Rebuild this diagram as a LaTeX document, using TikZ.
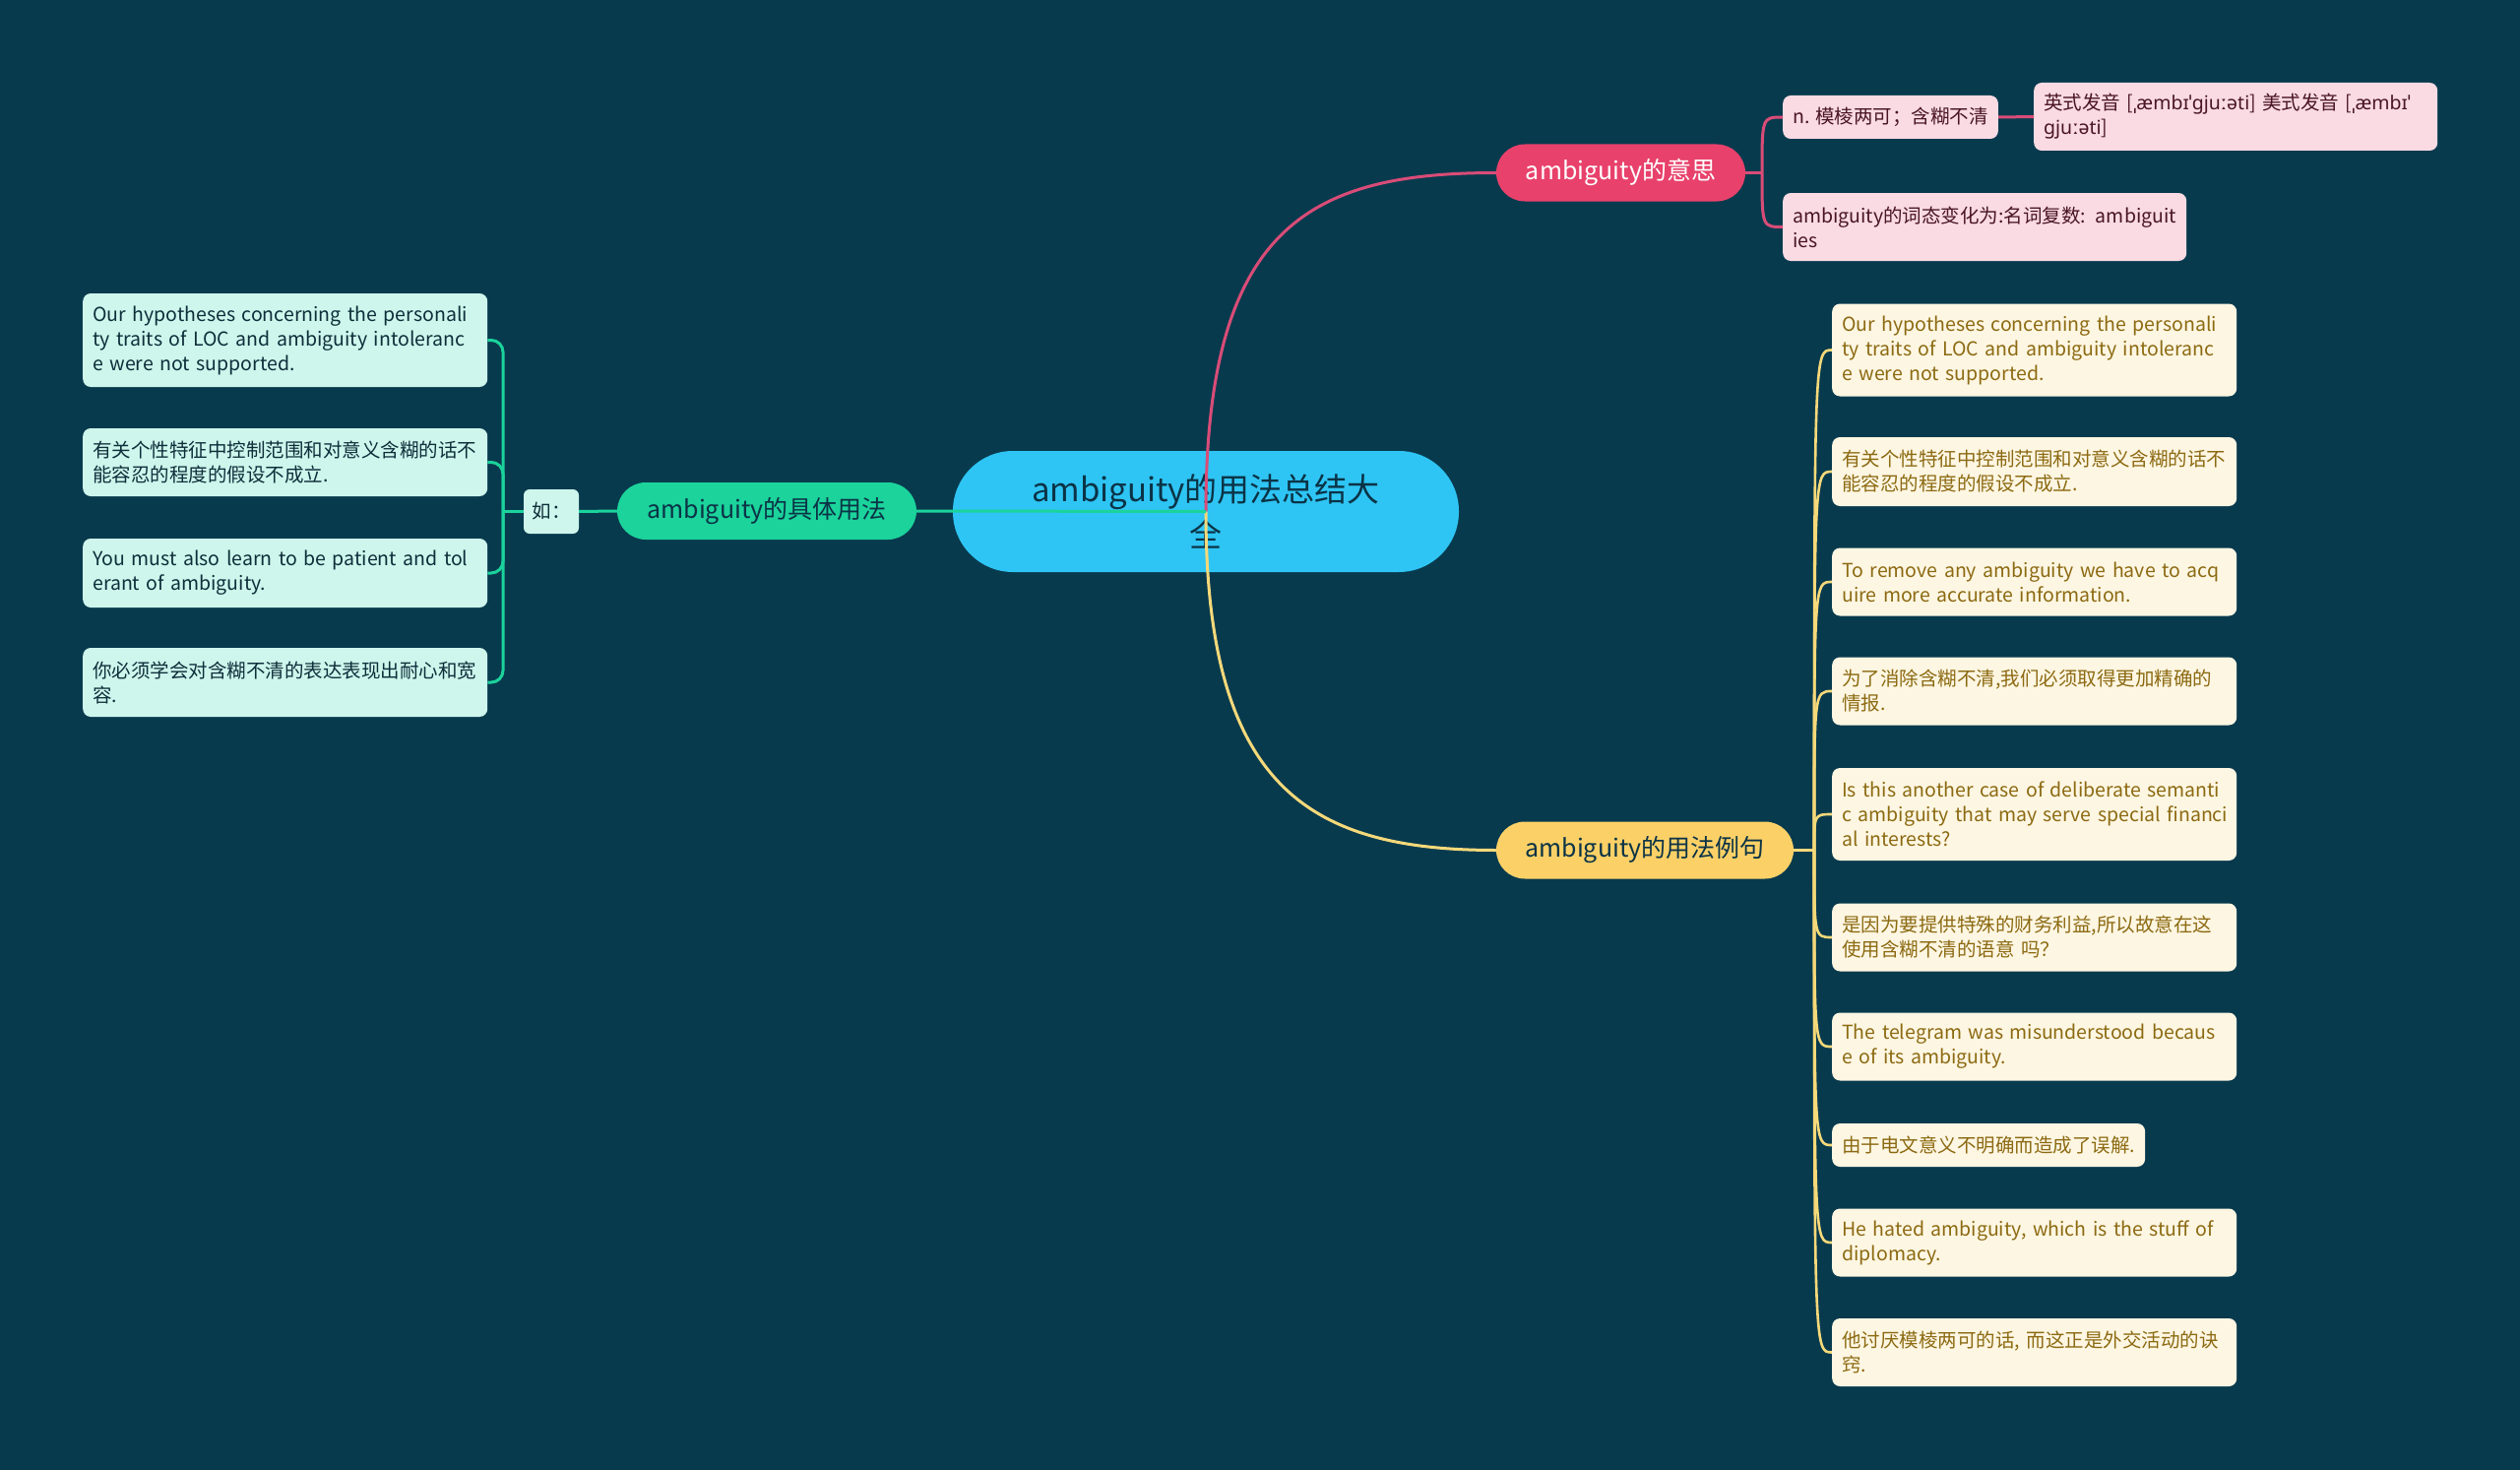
\documentclass[tikz,border=0pt]{standalone}
\usepackage{fontspec}
\setmainfont{Noto Sans CJK SC}
\newfontfamily\ipafont{Noto Sans}
\usetikzlibrary{calc}
\newcommand\leaffont{\fontsize{19.5}{25}\selectfont\hyphenpenalty=10000\relax}
\definecolor{bg}{HTML}{083A4E}
\definecolor{cen}{HTML}{2EC5F4}
\definecolor{pkmain}{HTML}{E8416B}
\definecolor{pkline}{HTML}{D94C77}
\definecolor{pkleaf}{HTML}{FADBE3}
\definecolor{pktext}{HTML}{4A1526}
\definecolor{gnmain}{HTML}{1BD39B}
\definecolor{gnleaf}{HTML}{CEF6EC}
\definecolor{gntext}{HTML}{0E2E3A}
\definecolor{ywmain}{HTML}{FBD167}
\definecolor{ywline}{HTML}{F5D97A}
\definecolor{ywleaf}{HTML}{FDF6E2}
\definecolor{ywtext}{HTML}{8C6A12}
\definecolor{dk}{HTML}{0B3346}
\begin{document}
\begin{tikzpicture}[x=1pt,y=-1pt,
  leaf/.style={rounded corners=8pt, anchor=west, align=left, inner xsep=10pt, inner ysep=0pt,
    font=\leaffont},
  yleaf/.style={leaf, fill=ywleaf, text=ywtext, text width=391pt},
  gleaf/.style={leaf, fill=gnleaf, text=gntext, text width=391pt},
  pleaf/.style={leaf, fill=pkleaf, text=pktext},
  mainnode/.style={rounded corners=29pt, minimum height=58pt, inner xsep=0pt, inner ysep=0pt,
    font=\fontsize{25}{30}\selectfont},
  pline/.style={draw=pkline, line width=3pt},
  yline/.style={draw=ywline, line width=2.6pt},
  gline/.style={draw=gnmain, line width=3pt},
]
\path[use as bounding box, fill=bg] (0,0) rectangle (2560,1493);

% central
\node[fill=cen, text=dk, rounded corners=61pt, minimum width=514pt, minimum height=123pt,
  inner sep=0pt, align=center, font=\fontsize{33}{46}\selectfont] (c) at (1225,519.5)
  {ambiguity的用法总结大\\全};

% main branches
\node[mainnode, fill=pkmain, text=white, minimum width=253pt] (pk) at (1646.5,175.5) {ambiguity的意思};
\node[mainnode, fill=gnmain, text=dk, minimum width=304pt] (gn) at (779,519) {ambiguity的具体用法};
\node[mainnode, fill=ywmain, text=dk, minimum width=302pt] (yw) at (1671,863.5) {ambiguity的用法例句};

% pink leaves
\node[pleaf, minimum height=44pt] (pk1) at (1811,119) {n. 模棱两可；含糊不清};
\node[pleaf, text width=390pt, minimum height=69pt] (pk1a) at (2066,118.5)
  {英式发音 [{\ipafont ˌæmbɪˈgjuːəti}] 美式发音 [{\ipafont ˌæmbɪˈ}\\{\ipafont gjuːəti}]};
\node[pleaf, text width=390pt, minimum height=69pt] (pk2) at (1811,230.5)
  {ambiguity的词态变化为:名词复数: ambiguit\\ies};

% green
\node[fill=gnleaf, text=gntext, rounded corners=6pt, minimum width=56pt, minimum height=45pt,
  inner sep=0pt, font=\fontsize{19.5}{25}\selectfont] (ru) at (560,519.5) {如：};
\node[gleaf, minimum height=95pt] (g1) at (84,345.5)
  {\mbox{Our hypotheses concerning the personali}\\\mbox{ty traits of LOC and ambiguity intoleranc}\\e were not supported.};
\node[gleaf, minimum height=69pt] (g2) at (84,469.5)
  {有关个性特征中控制范围和对意义含糊的话不\\能容忍的程度的假设不成立.};
\node[gleaf, minimum height=70pt] (g3) at (84,582)
  {\mbox{You must also learn to be patient and tol}\\erant of ambiguity.};
\node[gleaf, minimum height=70pt] (g4) at (84,693)
  {你必须学会对含糊不清的表达表现出耐心和宽\\容.};

% yellow leaves
\node[yleaf, minimum height=94pt] (y1) at (1861,355.5)
  {\mbox{Our hypotheses concerning the personali}\\\mbox{ty traits of LOC and ambiguity intoleranc}\\e were not supported.};
\node[yleaf, minimum height=70pt] (y2) at (1861,479)
  {有关个性特征中控制范围和对意义含糊的话不\\能容忍的程度的假设不成立.};
\node[yleaf, minimum height=69pt] (y3) at (1861,591)
  {\mbox{To remove any ambiguity we have to acq}\\uire more accurate information.};
\node[yleaf, minimum height=69pt] (y4) at (1861,702)
  {为了消除含糊不清,我们必须取得更加精确的\\情报.};
\node[yleaf, minimum height=94pt] (y5) at (1861,827)
  {\mbox{Is this another case of deliberate semanti}\\\mbox{c ambiguity that may serve special financi}\\al interests?};
\node[yleaf, minimum height=69pt] (y6) at (1861,952)
  {是因为要提供特殊的财务利益,所以故意在这\\使用含糊不清的语意 吗？};
\node[yleaf, minimum height=69pt] (y7) at (1861,1063)
  {\mbox{The telegram was misunderstood becaus}\\e of its ambiguity.};
\node[leaf, fill=ywleaf, text=ywtext, minimum height=44pt] (y8) at (1861,1163)
  {由于电文意义不明确而造成了误解.};
\node[yleaf, minimum height=69pt] (y9) at (1861,1262)
  {\mbox{He hated ambiguity, which is the stuff of}\\diplomacy.};
\node[yleaf, minimum height=69pt] (y10) at (1861,1373.5)
  {\mbox{他讨厌模棱两可的话, 而这正是外交活动的诀}\\窍.};

% main connectors (drawn over the central node)
\draw[pline] (c.center) .. controls (1225,230) and (1330,175.5) .. (pk.west);
\draw[yline, line width=3pt] (c.center) .. controls (1225,800) and (1330,863.5) .. (yw.west);
\draw[gline] (gn.east) -- (c.center);

% pink sub connectors
\coordinate (pj) at (1790,175.5);
\draw[pline] (pk.east) -- (pj);
\draw[pline] (pj) .. controls (pj |- pk1.west) .. (pk1.west);
\draw[pline] (pj) .. controls (pj |- pk2.west) .. (pk2.west);
\draw[pline] (pk1.east) -- (pk1a.west);

% green sub connectors
\coordinate (gj) at (511,519.5);
\draw[gline] (gn.west) -- (ru.east);
\draw[gline] (ru.west) -- (gj);
\foreach \n in {g1,g2,g3,g4}
  \draw[gline, rounded corners=12pt] (gj) |- (\n.east);

% yellow sub connectors
\coordinate (yj) at (1843,863.5);
\draw[yline] (yw.east) -- (yj);
\foreach \n in {y1,y2,y3,y4,y5,y6,y7,y8,y9,y10}
  \draw[yline] (yj) .. controls (yj |- \n.west) .. (\n.west);
\end{tikzpicture}
\end{document}
